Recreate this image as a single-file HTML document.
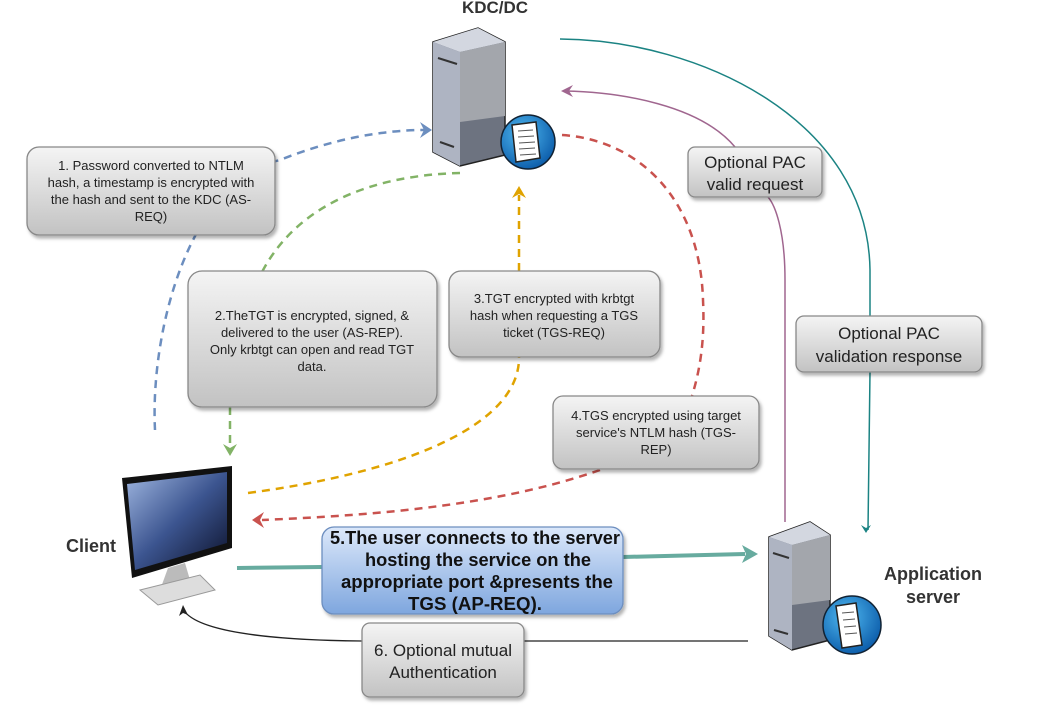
<!DOCTYPE html>
<html><head><meta charset="utf-8"><style>
html,body{margin:0;padding:0;background:#fff;}
svg{display:block;font-family:"Liberation Sans",sans-serif;}
</style></head><body>
<svg width="1042" height="715" viewBox="0 0 1042 715" xmlns="http://www.w3.org/2000/svg">
<defs>
<linearGradient id="g" x1="0" y1="0" x2="0" y2="1"><stop offset="0" stop-color="#f4f4f4"/><stop offset="1" stop-color="#c2c2c2"/></linearGradient>
<linearGradient id="b" x1="0" y1="0" x2="0" y2="1"><stop offset="0" stop-color="#dce8fa"/><stop offset="1" stop-color="#7ea6de"/></linearGradient>
<linearGradient id="scr" x1="0" y1="0" x2="1" y2="1"><stop offset="0" stop-color="#9fb6e0"/><stop offset="0.5" stop-color="#3c5590"/><stop offset="1" stop-color="#0b1028"/></linearGradient>
<radialGradient id="glob" cx="0.4" cy="0.35" r="0.7"><stop offset="0" stop-color="#4fb8f0"/><stop offset="1" stop-color="#0a5aa8"/></radialGradient>
<filter id="sh" x="-10%" y="-10%" width="130%" height="130%"><feDropShadow dx="2" dy="3" stdDeviation="1.5" flood-color="#000" flood-opacity="0.3"/></filter>
</defs>

<g fill="none" stroke-width="2.5" stroke-dasharray="8,6">
<path d="M155,430 C150,330 190,180 280,160 C330,140 380,130 425,130" stroke="#6c8ebf"/>
<path d="M460,173 C380,175 300,200 262,272" stroke="#82b366"/>
<path d="M230,407 L230,448" stroke="#82b366"/>
<path d="M248,493 C420,470 520,420 519,357" stroke="#e0a300"/>
<path d="M519,271 L519,195" stroke="#e0a300"/>
<path d="M562,135 C640,140 700,200 703,300 C705,340 700,370 692,396" stroke="#c9524e"/>
<path d="M600,470 C500,505 380,515 262,520" stroke="#c9524e"/>
</g>
<polygon points="432,130 420,122 424,130 420,138" fill="#6c8ebf"/>
<polygon points="230,456 223,444 230,448 237,444" fill="#82b366"/>
<polygon points="519,186 512,198 519,194 526,198" fill="#e0a300"/>
<polygon points="252,520 264,512 260,520 264,528" fill="#c9524e"/>

<path d="M785,522 L785,280 C785,230 775,205 768,197 M735,147 C700,105 620,92 565,91" fill="none" stroke="#a0668f" stroke-width="1.5"/>
<polygon points="561,91 573,85 569,91 573,97" fill="#a0668f"/>
<path d="M560,39 C700,40 868,120 870,270 L870,316 M870,372 L868,530" fill="none" stroke="#1b8383" stroke-width="1.5"/>
<polygon points="866,533 861,525 866,528 871,525" fill="#1b8383"/>

<path d="M237,568 L322,567 M623,557 L745,554" stroke="#67ab9f" stroke-width="4" fill="none"/>
<polygon points="758,554 742,545 746,554 742,563" fill="#67ab9f"/>

<path d="M748,641 L524,641 M362,641 C260,640 200,630 185,612" stroke="#222" stroke-width="1.3" fill="none"/>
<polygon points="183,605 179,616 183,613 188,615" fill="#222"/>

<g>
<polygon points="433,42 478,28 505,42 505,155 460,166 433,152" fill="#6d7380" stroke="#222" stroke-width="1.5"/>
<polygon points="433,42 478,28 505,42 460,52" fill="#d3d7e0"/>
<polygon points="433,42 460,52 460,166 433,152" fill="#aeb4c2"/>
<polygon points="460,52 505,42 505,116 460,122" fill="#a3a6ac"/>
<line x1="438" y1="58" x2="457" y2="64" stroke="#333" stroke-width="2"/>
<line x1="440" y1="142" x2="454" y2="147" stroke="#333" stroke-width="2"/>
<circle cx="528" cy="142" r="27" fill="url(#glob)" stroke="#123" stroke-width="1.5"/>
<polygon points="512,125 536,122 540,158 516,162" fill="#fff" stroke="#222" stroke-width="1.5"/>
<g stroke="#555" stroke-width="1"><line x1="518" y1="131" x2="533" y2="130"/><line x1="518" y1="137" x2="534" y2="136"/><line x1="519" y1="143" x2="535" y2="142"/><line x1="519" y1="149" x2="535" y2="148"/><line x1="520" y1="155" x2="536" y2="154"/></g>
</g>
<text x="495" y="13" font-size="17" font-weight="bold" fill="#333" text-anchor="middle">KDC/DC</text>

<g>
<polygon points="769,537 810,522 830,535 830,640 792,650 769,636" fill="#6d7380" stroke="#222" stroke-width="1.5"/>
<polygon points="769,537 810,522 830,535 792,545" fill="#d3d7e0"/>
<polygon points="769,537 792,545 792,650 769,636" fill="#aeb4c2"/>
<polygon points="792,545 830,535 830,600 792,605" fill="#a3a6ac"/>
<line x1="773" y1="553" x2="789" y2="558" stroke="#333" stroke-width="2"/>
<line x1="774" y1="630" x2="788" y2="634" stroke="#333" stroke-width="2"/>
<circle cx="852" cy="625" r="29" fill="url(#glob)" stroke="#123" stroke-width="1.5"/>
<polygon points="836,606 856,603 862,645 842,648" fill="#fff" stroke="#222" stroke-width="1.5"/>
<g stroke="#555" stroke-width="1"><line x1="842" y1="613" x2="854" y2="612"/><line x1="843" y1="620" x2="855" y2="619"/><line x1="844" y1="627" x2="856" y2="626"/><line x1="845" y1="634" x2="857" y2="633"/></g>
</g>
<text x="933" y="580" font-size="18" font-weight="bold" fill="#333" text-anchor="middle">Application</text>
<text x="933" y="603" font-size="18" font-weight="bold" fill="#333" text-anchor="middle">server</text>

<g>
<polygon points="122,478 232,466 232,548 132,578" fill="#111"/>
<polygon points="127,484 227,472 227,543 135,570" fill="url(#scr)"/>
<polygon points="168,568 185,563 190,580 160,590" fill="#bbb"/>
<polygon points="140,590 200,575 215,590 158,605" fill="#ddd" stroke="#999"/>
</g>
<text x="91" y="552" font-size="18" font-weight="bold" fill="#333" text-anchor="middle">Client</text>

<g stroke="#888" stroke-width="1.3" filter="url(#sh)">
<rect x="27" y="147" width="248" height="88" rx="12" fill="url(#g)"/>
<rect x="188" y="271" width="249" height="136" rx="14" fill="url(#g)"/>
<rect x="449" y="271" width="211" height="86" rx="12" fill="url(#g)"/>
<rect x="553" y="396" width="206" height="73" rx="10" fill="url(#g)"/>
<rect x="688" y="147" width="134" height="50" rx="7" fill="url(#g)"/>
<rect x="796" y="316" width="186" height="56" rx="8" fill="url(#g)"/>
<rect x="362" y="623" width="162" height="74" rx="8" fill="url(#g)"/>
<rect x="322" y="527" width="301" height="87" rx="12" fill="url(#b)" stroke="#6c8ebf"/>
</g>

<g font-size="13" fill="#222" text-anchor="middle">
<text x="151" y="170">1. Password converted to NTLM</text>
<text x="151" y="187">hash, a timestamp is encrypted with</text>
<text x="151" y="204">the hash and sent to the KDC (AS-</text>
<text x="151" y="221">REQ)</text>
<text x="312" y="320">2.TheTGT is encrypted, signed, &amp;</text>
<text x="312" y="337">delivered to the user (AS-REP).</text>
<text x="312" y="354">Only krbtgt can open and read TGT</text>
<text x="312" y="371">data.</text>
<text x="554" y="303">3.TGT encrypted with krbtgt</text>
<text x="554" y="320">hash when requesting a TGS</text>
<text x="554" y="337">ticket (TGS-REQ)</text>
<text x="656" y="420">4.TGS encrypted using target</text>
<text x="656" y="437">service's NTLM hash (TGS-</text>
<text x="656" y="454">REP)</text>
</g>
<g font-size="17" fill="#222" text-anchor="middle">
<text x="755" y="168">Optional PAC</text>
<text x="755" y="190">valid request</text>
<text x="889" y="339">Optional PAC</text>
<text x="889" y="362">validation response</text>
<text x="443" y="656">6. Optional mutual</text>
<text x="443" y="678">Authentication</text>
</g>
<g font-size="18" font-weight="bold" fill="#111" lengthAdjust="spacingAndGlyphs">
<text x="330" y="544" textLength="290" lengthAdjust="spacingAndGlyphs">5.The user connects to the server</text>
<text x="365" y="566" textLength="226" lengthAdjust="spacingAndGlyphs">hosting the service on the</text>
<text x="341" y="588" textLength="272" lengthAdjust="spacingAndGlyphs">appropriate port &amp;presents the</text>
<text x="408" y="610" textLength="134" lengthAdjust="spacingAndGlyphs">TGS (AP-REQ).</text>
</g>
</svg>
</body></html>
